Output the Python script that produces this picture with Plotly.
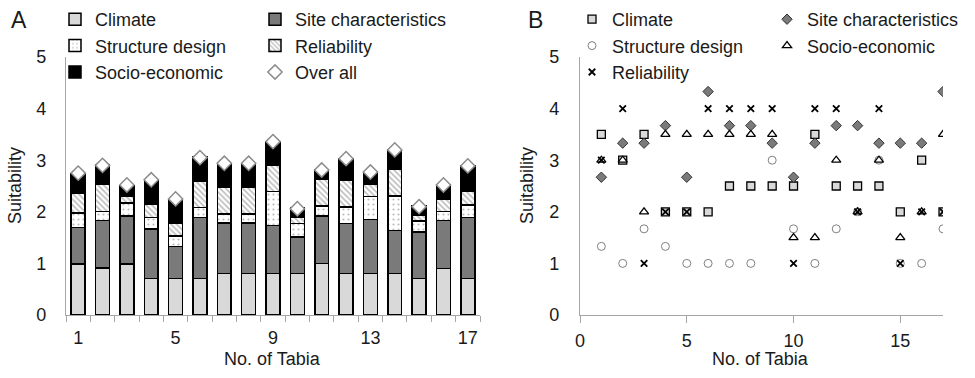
import plotly.graph_objects as go

W, H = 975, 378

tabia = list(range(1, 18))

# Panel A: weighted contributions (stacked)
climate_w = [0.99, 0.91, 0.99, 0.71, 0.71, 0.71, 0.80, 0.80, 0.80, 0.80, 1.00, 0.80, 0.80, 0.80, 0.71, 0.90, 0.71]
site_w = [0.71, 0.92, 0.93, 0.96, 0.62, 1.18, 0.98, 0.98, 0.93, 0.71, 0.92, 0.97, 1.05, 0.84, 0.90, 0.93, 1.18]
structure_w = [0.28, 0.18, 0.25, 0.22, 0.20, 0.19, 0.18, 0.18, 0.66, 0.26, 0.19, 0.32, 0.45, 0.67, 0.21, 0.18, 0.24]
reliability_w = [0.38, 0.52, 0.13, 0.26, 0.24, 0.51, 0.52, 0.52, 0.52, 0.12, 0.52, 0.52, 0.24, 0.52, 0.11, 0.24, 0.27]
socio_w = [0.38, 0.38, 0.21, 0.47, 0.47, 0.47, 0.46, 0.46, 0.45, 0.18, 0.18, 0.42, 0.23, 0.38, 0.18, 0.27, 0.50]
overall = [2.75, 2.90, 2.52, 2.62, 2.25, 3.05, 2.94, 2.94, 3.36, 2.06, 2.81, 3.03, 2.77, 3.20, 2.10, 2.52, 2.89]

# Panel B: criterion scores
climate_s = [3.5, 3, 3.5, 2, 2, 2, 2.5, 2.5, 2.5, 2.5, 3.5, 2.5, 2.5, 2.5, 2, 3, 2]
site_s = [2.67, 3.33, 3.33, 3.67, 2.67, 4.33, 3.67, 3.67, 3.33, 2.67, 3.33, 3.67, 3.67, 3.33, 3.33, 3.33, 4.33]
structure_s = [1.33, 1, 1.67, 1.33, 1, 1, 1, 1, 3, 1.67, 1, 1.67, 2, 3, 1, 1, 1.67]
socio_s = [3, 3, 2, 3.5, 3.5, 3.5, 3.5, 3.5, 3.5, 1.5, 1.5, 3, 2, 3, 1.5, 2, 3.5]
reliability_s = [3, 4, 1, 2, 2, 4, 4, 4, 4, 1, 4, 4, 2, 4, 1, 2, 2]

y_ticks = [0, 1, 2, 3, 4, 5]
xa_ticks = [1, 5, 9, 13, 17]
xb_ticks = [0, 5, 10, 15]

FONT = "Liberation Sans"
TXT = "#1a1a1a"
AX = "#a6a6a6"

def px(x):
    return x / W

def py(y):
    return 1 - y / H

fig = go.Figure()

bar_common = dict(xaxis="x", yaxis="y", width=0.57)
edge = dict(color="black", width=1.5)

fig.add_bar(x=tabia, y=climate_w, name="Climate", legend="legend",
            marker=dict(color="#d9d9d9", line=edge), **bar_common)
fig.add_bar(x=tabia, y=site_w, name="Site characteristics", legend="legend2",
            marker=dict(color="#7a7a7a", line=edge), **bar_common)
fig.add_bar(x=tabia, y=structure_w, name="Structure design", legend="legend",
            marker=dict(color="white", line=edge,
                        pattern=dict(shape=".", fgcolor="#777777", bgcolor="white",
                                     size=5, solidity=0.15)), **bar_common)
fig.add_bar(x=tabia, y=reliability_w, name="Reliability", legend="legend2",
            marker=dict(color="white", line=edge,
                        pattern=dict(shape="\\", fgcolor="#7a7a7a", bgcolor="white",
                                     size=4, solidity=0.4)), **bar_common)
fig.add_bar(x=tabia, y=socio_w, name="Socio-economic", legend="legend",
            marker=dict(color="black", line=edge), **bar_common)
fig.add_scatter(x=tabia, y=overall, name="Over all", legend="legend2", mode="markers",
                xaxis="x", yaxis="y",
                marker=dict(symbol="diamond", size=11, color="white",
                            line=dict(color="#8c8c8c", width=1.5)))

sc_common = dict(xaxis="x2", yaxis="y2", mode="markers")
fig.add_scatter(x=tabia, y=climate_s, name="Climate", legend="legend3",
                marker=dict(symbol="square", size=8, color="#d9d9d9",
                            line=dict(color="black", width=1.3)), **sc_common)
fig.add_scatter(x=tabia, y=site_s, name="Site characteristics", legend="legend4",
                marker=dict(symbol="diamond", size=8, color="#7a7a7a",
                            line=dict(color="#333333", width=1)), **sc_common)
fig.add_scatter(x=tabia, y=structure_s, name="Structure design", legend="legend3",
                marker=dict(symbol="circle", size=8, color="white",
                            line=dict(color="#808080", width=1)), **sc_common)
fig.add_scatter(x=tabia, y=socio_s, name="Socio-economic", legend="legend4",
                marker=dict(symbol="triangle-up", size=8, color="white",
                            line=dict(color="black", width=1.3)), **sc_common)
fig.add_scatter(x=tabia, y=reliability_s, name="Reliability", legend="legend3",
                marker=dict(symbol="x-thin", size=6.5, color="black",
                            line=dict(color="black", width=1.8)), **sc_common)

ydom = [py(315), py(57)]
tickfont = dict(family=FONT, size=18, color=TXT)

fig.update_layout(
    width=W, height=H,
    margin=dict(l=0, r=0, t=0, b=0),
    paper_bgcolor="white", plot_bgcolor="white",
    barmode="stack", bargap=0.43,
    font=dict(family=FONT, size=18, color=TXT),
    xaxis=dict(domain=[px(66), px(480)], range=[0.5, 17.5], anchor="y",
               tickmode="array", tickvals=xa_ticks, ticks="",
               minor=dict(ticks="outside", tick0=0.5, dtick=1, ticklen=6,
                          tickcolor=AX, tickwidth=1.3),
               showline=True, linecolor=AX, linewidth=1.3,
               showgrid=False, zeroline=False, tickfont=tickfont,
               ticklabelstandoff=6, automargin=False),
    yaxis=dict(domain=ydom, range=[0, 5], anchor="x",
               tickmode="array", tickvals=y_ticks, ticks="",
               showline=True, linecolor=AX, linewidth=1.3,
               showgrid=False, zeroline=False, tickfont=tickfont,
               ticklabelstandoff=15, automargin=False),
    xaxis2=dict(domain=[px(580), px(943)], range=[0, 17], anchor="y2",
                tickmode="array", tickvals=xb_ticks, ticks="outside",
                ticklen=7, tickcolor=AX, tickwidth=1.3,
                showline=True, linecolor=AX, linewidth=1.3,
                showgrid=False, zeroline=False, tickfont=tickfont,
                ticklabelstandoff=2, automargin=False),
    yaxis2=dict(domain=ydom, range=[0, 5], anchor="x2",
                tickmode="array", tickvals=y_ticks, ticks="",
                showline=True, linecolor=AX, linewidth=1.3,
                showgrid=False, zeroline=False, tickfont=tickfont,
                ticklabelstandoff=16, automargin=False),
    showlegend=True,
)

leg_font = dict(family=FONT, size=18, color=TXT)
def legend_at(xpx):
    return dict(x=px(xpx), y=py(1), xanchor="left", yanchor="top",
                orientation="v", traceorder="normal", bgcolor="rgba(0,0,0,0)",
                borderwidth=0, font=leg_font, itemwidth=30, tracegroupgap=0)

fig.update_layout(legend=legend_at(55), legend2=legend_at(255),
                  legend3=legend_at(572), legend4=legend_at(767))

ann = []
ann.append(dict(text="A", x=px(19), y=py(20), xref="paper", yref="paper",
                xanchor="center", yanchor="middle", showarrow=False,
                font=dict(family=FONT, size=23, color=TXT)))
ann.append(dict(text="B", x=px(535), y=py(20), xref="paper", yref="paper",
                xanchor="center", yanchor="middle", showarrow=False,
                font=dict(family=FONT, size=23, color=TXT)))
for xc in (15, 527):
    ann.append(dict(text="Suitability", x=px(xc), y=py(186), xref="paper", yref="paper",
                    xanchor="center", yanchor="middle", showarrow=False, textangle=-90,
                    font=dict(family=FONT, size=18, color=TXT)))
for xc in (272, 760):
    ann.append(dict(text="No. of Tabia", x=px(xc), y=py(359), xref="paper", yref="paper",
                    xanchor="center", yanchor="middle", showarrow=False,
                    font=dict(family=FONT, size=18, color=TXT)))
fig.update_layout(annotations=ann)

fig.write_html("out.html", config={"displayModeBar": False},
               post_script="document.body.style.margin='0';document.body.style.overflow='hidden';")
